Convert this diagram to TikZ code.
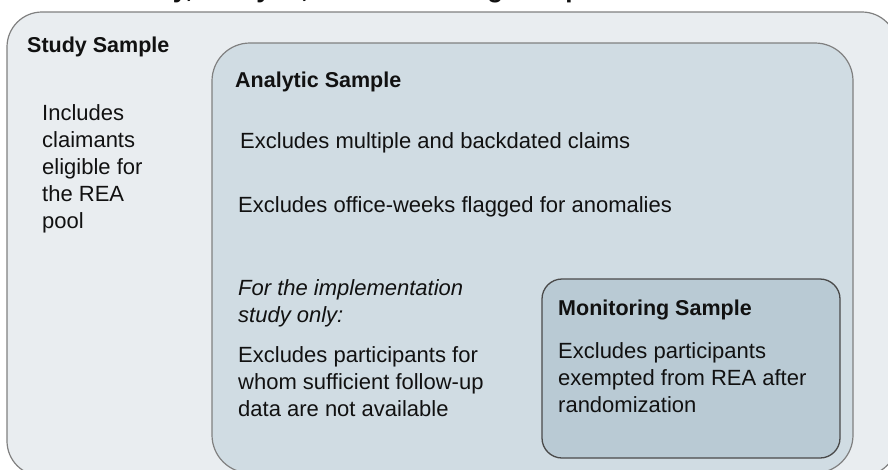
\documentclass[tikz,border=0pt]{standalone}
\usepackage{fontspec}
\setmainfont{Liberation Sans}
\definecolor{outerfill}{HTML}{E9EDF0}
\definecolor{anafill}{HTML}{D0DCE3}
\definecolor{monfill}{HTML}{B9CAD4}
\definecolor{lightline}{HTML}{808080}
\definecolor{darkline}{HTML}{4A4A4A}
\definecolor{ink}{HTML}{111111}
\begin{document}
\begin{tikzpicture}[x=1pt,y=-1pt,
  txt/.style={anchor=base west, inner sep=0pt, align=left, text=ink,
              font=\fontsize{22}{27}\selectfont},
  itxt/.style={txt, font=\fontsize{22}{27}\selectfont\itshape},
  head/.style={anchor=base west, inner sep=0pt, text=ink,
               font=\fontsize{21.5}{26}\selectfont\bfseries}]
\useasboundingbox (0,0) rectangle (888,469);
\clip (0,0) rectangle (888,469);
% title (cut off by the top edge)
\node[anchor=base west, inner sep=0pt, text=ink,
      font=\fontsize{26}{30}\selectfont\bfseries] (title) at (115,-2.5)
      {Study, Analytic, and Monitoring Samples};
% boxes
\draw[lightline, fill=outerfill, line width=1.2pt, rounded corners=35pt]
  (7,12) rectangle (897,476);
\draw[lightline, fill=anafill, line width=1.2pt, rounded corners=38pt]
  (212,43) rectangle (853,473);
\draw[darkline, fill=monfill, line width=1.3pt, rounded corners=20pt]
  (542,279) rectangle (840,458);
% texts (multi-line nodes: base anchor = baseline of the last line)
\node[head] (stud) at (27,52) {Study Sample};
\node[txt] (incl) at (42,228) {Includes\\claimants\\eligible for\\the REA\\pool};
\node[head] (anh) at (235,87) {Analytic Sample};
\node[txt] (ex1) at (240,148) {Excludes multiple and backdated claims};
\node[txt] (ex2) at (238,212) {Excludes office-weeks flagged for anomalies};
\node[itxt] (impl) at (238,322) {For the implementation\\study only:};
\node[txt] (ex3) at (238,416) {Excludes participants for\\whom sufficient follow-up\\data are not available};
\node[head] (monh) at (558,315) {Monitoring Sample};
\node[txt] (ex4) at (558,412) {Excludes participants\\exempted from REA after\\randomization};
\end{tikzpicture}
\end{document}
